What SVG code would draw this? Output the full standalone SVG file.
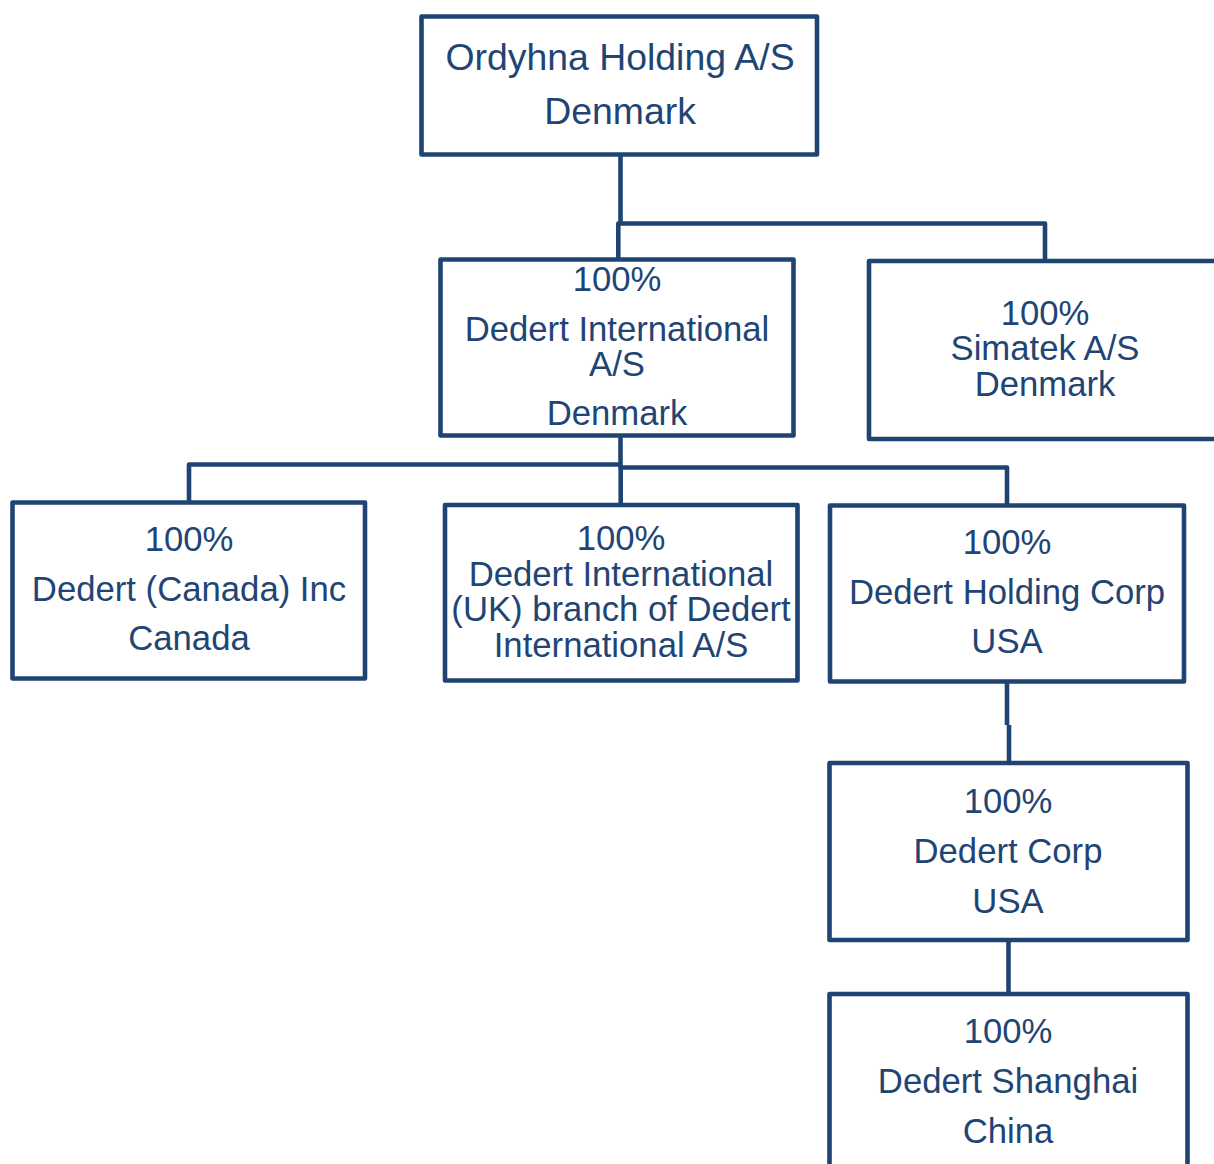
<svg xmlns="http://www.w3.org/2000/svg" width="1214" height="1164" viewBox="0 0 1214 1164">
<style>
.box{fill:#ffffff;stroke:#1F4473;stroke-width:4.6;stroke-linejoin:round}
.con{fill:none;stroke:#1F4473;stroke-width:4.6;stroke-linejoin:round}
text{font-family:"Liberation Sans",Arial,sans-serif;font-size:34.7px;fill:#1F4575;text-anchor:middle}
.big{font-size:37.4px}
</style>
<rect width="1214" height="1164" fill="#ffffff"/>
<g id="connectors">
<path class="con" d="M620.5 155 V223.5"/>
<path class="con" d="M618.3 259.5 V223.5 H1045 V261"/>
<path class="con" d="M620.5 435.5 V467.5"/>
<path class="con" d="M189 502.5 V464.5 H620.5"/>
<path class="con" d="M618.5 467.5 H1007 V505.5"/>
<path class="con" d="M620.7 467.5 V505"/>
<path class="con" d="M1007 681.5 V725"/>
<path class="con" d="M1009 725 V763"/>
<path class="con" d="M1008.5 940 V994"/>
</g>
<g id="ordyhna">
<rect class="box" x="421.5" y="16.5" width="395.5" height="138"/>
<text class="big" x="620" y="70">Ordyhna Holding A/S</text>
<text class="big" x="620" y="124">Denmark</text>
</g>
<g id="dedert-international">
<rect class="box" x="440.5" y="259.5" width="353" height="176"/>
<text x="617" y="291">100%</text>
<text x="617" y="341">Dedert International</text>
<text x="617" y="376">A/S</text>
<text x="617" y="425">Denmark</text>
</g>
<g id="simatek">
<rect class="box" x="869" y="261" width="370" height="178"/>
<text x="1045" y="325">100%</text>
<text x="1045" y="360">Simatek A/S</text>
<text x="1045" y="396">Denmark</text>
</g>
<g id="dedert-canada">
<rect class="box" x="12.5" y="502.5" width="352.5" height="176"/>
<text x="189" y="551">100%</text>
<text x="189" y="601">Dedert (Canada) Inc</text>
<text x="189" y="650">Canada</text>
</g>
<g id="dedert-uk">
<rect class="box" x="445" y="505" width="352.5" height="175.5"/>
<text x="621" y="550">100%</text>
<text x="621" y="586">Dedert International</text>
<text x="621" y="621">(UK) branch of Dedert</text>
<text x="621" y="657">International A/S</text>
</g>
<g id="dedert-holding">
<rect class="box" x="830" y="505.5" width="354" height="176"/>
<text x="1007" y="554">100%</text>
<text x="1007" y="604">Dedert Holding Corp</text>
<text x="1007" y="653">USA</text>
</g>
<g id="dedert-corp">
<rect class="box" x="829.5" y="763" width="358" height="177"/>
<text x="1008" y="813">100%</text>
<text x="1008" y="863">Dedert Corp</text>
<text x="1008" y="913">USA</text>
</g>
<g id="dedert-shanghai">
<rect class="box" x="829.5" y="994" width="358" height="200"/>
<text x="1008" y="1043">100%</text>
<text x="1008" y="1093">Dedert Shanghai</text>
<text x="1008" y="1143">China</text>
</g>
</svg>
